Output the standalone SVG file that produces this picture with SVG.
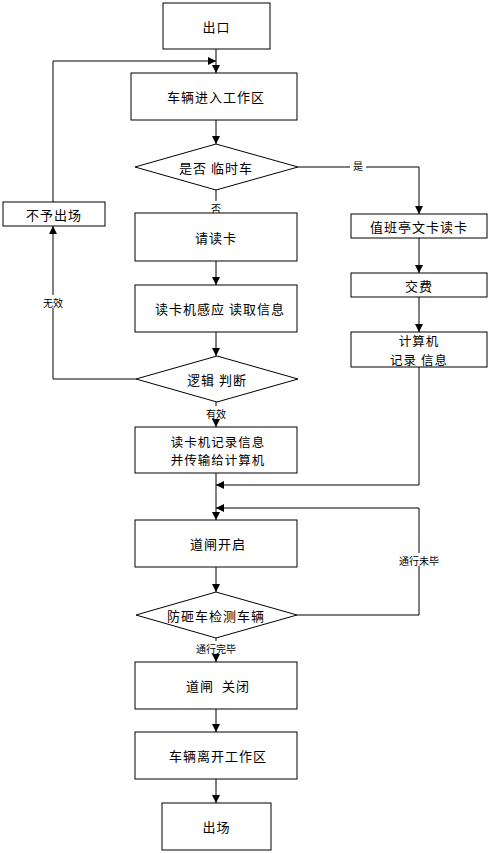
<svg xmlns="http://www.w3.org/2000/svg" width="490" height="853" viewBox="0 0 490 853">
<style>
.b{fill:#fff;stroke:#000;stroke-width:1}
.t{font-family:"Noto Sans CJK SC","Liberation Sans",sans-serif;font-size:13px;letter-spacing:1px;fill:#000;text-anchor:middle;dominant-baseline:central}
.s{font-size:12.5px}
.l{font-family:"Noto Sans CJK SC","Liberation Sans",sans-serif;font-size:10px;fill:#000;text-anchor:middle;dominant-baseline:central}
.c{fill:none;stroke:#000;stroke-width:1}
</style>
<defs>
<marker id="a" viewBox="0 0 10 10" refX="10" refY="5" markerWidth="8" markerHeight="8" markerUnits="userSpaceOnUse" orient="auto"><path d="M0,0L10,5L0,10z" fill="#000"/></marker>
</defs>
<rect width="490" height="853" fill="#fff"/>
<g id="connectors">
<path class="c" d="M216,49V73" marker-end="url(#a)"/>
<path class="c" d="M53,202V61H216" marker-end="url(#a)"/>
<path class="c" d="M216,120V144" marker-end="url(#a)"/>
<path class="c" d="M216,190V213" marker-end="url(#a)"/>
<path class="c" d="M298,167H419V214" marker-end="url(#a)"/>
<path class="c" d="M419,238V273" marker-end="url(#a)"/>
<path class="c" d="M419,297V332" marker-end="url(#a)"/>
<path class="c" d="M216,261V285" marker-end="url(#a)"/>
<path class="c" d="M216,332V356" marker-end="url(#a)"/>
<path class="c" d="M136,379H53V226" marker-end="url(#a)"/>
<path class="c" d="M216,402V427" marker-end="url(#a)"/>
<path class="c" d="M216,473V520" marker-end="url(#a)"/>
<path class="c" d="M419,367V485H216" marker-end="url(#a)"/>
<path class="c" d="M216,567V592" marker-end="url(#a)"/>
<path class="c" d="M297,615H419V508H216" marker-end="url(#a)"/>
<path class="c" d="M216,638V662" marker-end="url(#a)"/>
<path class="c" d="M216,709V732" marker-end="url(#a)"/>
<path class="c" d="M216,779V803" marker-end="url(#a)"/>
<rect x="350" y="159" width="16" height="13" fill="#fff"/>
<text class="l" x="358" y="165">是</text>
<rect x="208" y="201" width="16" height="13" fill="#fff"/>
<text class="l" x="216" y="208">否</text>
<rect x="41" y="295" width="24" height="13" fill="#fff"/>
<text class="l" x="53" y="302">无效</text>
<rect x="204" y="406" width="24" height="13" fill="#fff"/>
<text class="l" x="216" y="413">有效</text>
<rect x="398" y="553" width="42" height="13" fill="#fff"/>
<text class="l" x="419" y="560">通行未毕</text>
<rect x="195" y="641" width="42" height="13" fill="#fff"/>
<text class="l" x="216" y="648">通行完毕</text>
</g>
<g id="n1"><rect class="b" x="163" y="3" width="107" height="46"/><text class="t" x="216.5" y="26">出口</text></g>
<g id="n2"><rect class="b" x="131" y="73" width="166" height="47"/><text class="t" x="216" y="96.5">车辆进入工作区</text></g>
<g id="n3"><path class="b" d="M216,144L298,167L216,190L135,167Z"/><text class="t" x="216" y="167">是否 临时车</text></g>
<g id="n4"><rect class="b" x="3" y="202" width="102" height="24"/><text class="t" x="54" y="214">不予出场</text></g>
<g id="n5"><rect class="b" x="135" y="213" width="162" height="48"/><text class="t" x="216" y="237">请读卡</text></g>
<g id="n6"><rect class="b" x="351" y="214" width="136" height="24"/><text class="t" x="419" y="226">值班亭文卡读卡</text></g>
<g id="n7"><rect class="b" x="351" y="273" width="136" height="24"/><text class="t" x="419" y="285">交费</text></g>
<g id="n8"><rect class="b" x="351" y="332" width="136" height="35"/><text class="t s" x="419" y="340.5">计算机</text><text class="t s" x="419" y="359">记录 信息</text></g>
<g id="n9"><rect class="b" x="135" y="285" width="162" height="47"/><text class="t" x="220" y="308.5">读卡机感应 读取信息</text></g>
<g id="n10"><path class="b" d="M217,356L298,379L217,402L136,379Z"/><text class="t" x="217" y="379">逻辑 判断</text></g>
<g id="n11"><rect class="b" x="135" y="427" width="162" height="46"/><text class="t s" x="218" y="441">读卡机记录信息</text><text class="t s" x="218" y="459.5">并传输给计算机</text></g>
<g id="n12"><rect class="b" x="135" y="520" width="162" height="47"/><text class="t" x="218" y="543.5">道闸开启</text></g>
<g id="n13"><path class="b" d="M216,592L297,615L216,638L136,615Z"/><text class="t" x="216" y="615">防砸车检测车辆</text></g>
<g id="n14"><rect class="b" x="135" y="662" width="162" height="47"/><text class="t" x="218" y="685.5" xml:space="preserve">道闸  关闭</text></g>
<g id="n15"><rect class="b" x="135" y="732" width="162" height="47"/><text class="t" x="218" y="755.5">车辆离开工作区</text></g>
<g id="n16"><rect class="b" x="162" y="803" width="109" height="47"/><text class="t" x="216.5" y="826.5">出场</text></g>
</svg>
